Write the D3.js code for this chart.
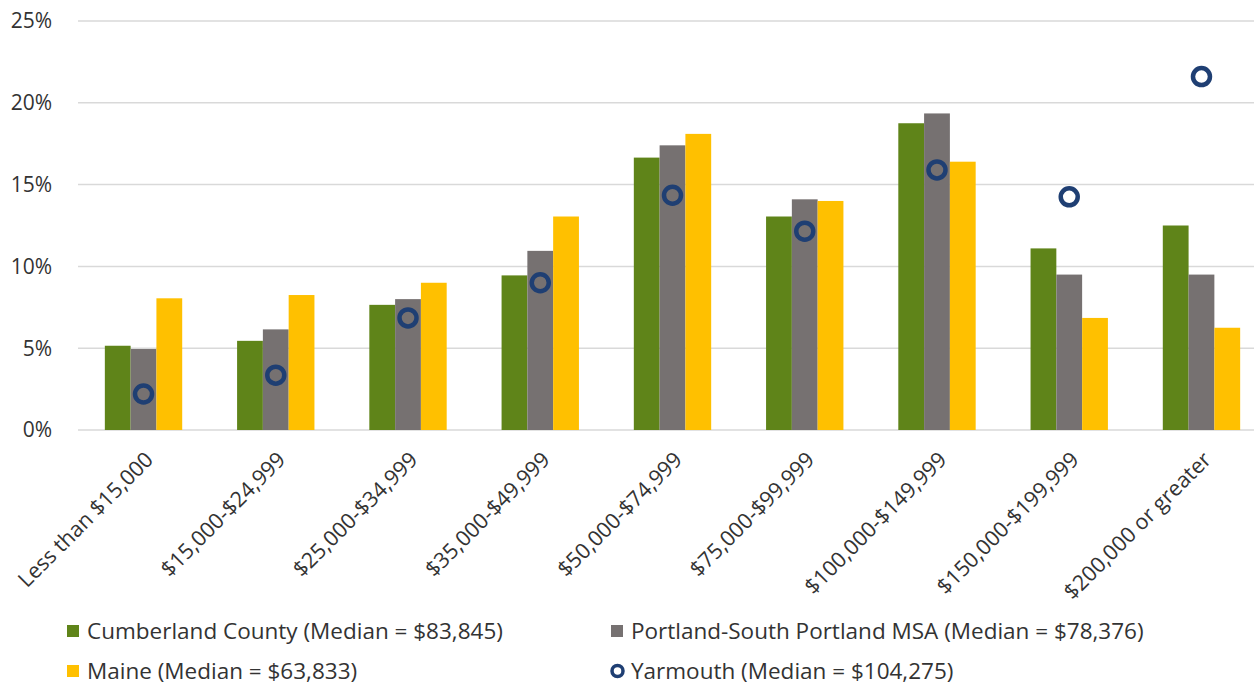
<!DOCTYPE html>
<html>
<head>
<meta charset="utf-8">
<script src="https://cdn.jsdelivr.net/npm/d3@7"></script>
<style>
  body { margin: 0; background: #fff; }
  text { font-family: "Open Sans", "Noto Sans", sans-serif; fill: #333; }
</style>
</head>
<body>
<div id="chart"></div>
<script>
// income brackets
var categories = ["Less than $15,000", "$15,000-$24,999", "$25,000-$34,999", "$35,000-$49,999",
  "$50,000-$74,999", "$75,000-$99,999", "$100,000-$149,999", "$150,000-$199,999", "$200,000 or greater"];

// share of households, %
var cumberland = [5.15, 5.45, 7.65, 9.45, 16.65, 13.05, 18.75, 11.1, 12.5];
var portland   = [4.95, 6.15, 8.0, 10.95, 17.4, 14.1, 19.35, 9.5, 9.5];
var maine      = [8.05, 8.25, 9.0, 13.05, 18.1, 14.0, 16.4, 6.85, 6.25];
var yarmouth   = [2.2, 3.35, 6.85, 9.0, 14.35, 12.15, 15.9, 14.25, 21.6];

var yTicks = [0, 5, 10, 15, 20, 25];

var barSeries = [
  {name: "Cumberland County (Median = $83,845)", fill: "#5f8419", values: cumberland},
  {name: "Portland-South Portland MSA (Median = $78,376)", fill: "#767171", values: portland},
  {name: "Maine (Median = $63,833)", fill: "#ffc000", values: maine}
];
var dotName = "Yarmouth (Median = $104,275)";
var dotColor = "#1f3f73";

var W = 1254, H = 686;
var svg = d3.select("#chart").append("svg")
  .attr("width", W).attr("height", H);

var y = d3.scaleLinear().domain([0, 25]).range([430, 21]);

var x0 = d3.scaleBand().domain(categories)
  .range([77.4, 1267.6])
  .paddingInner(0.415).paddingOuter(0.2075);

var x1 = d3.scaleBand().domain(barSeries.map(function(s) { return s.name; }))
  .range([0, x0.bandwidth()]);

// gridlines
svg.append("g").selectAll("line")
  .data(yTicks)
  .enter().append("line")
  .attr("x1", 78).attr("x2", W)
  .attr("y1", function(d) { return y(d); })
  .attr("y2", function(d) { return y(d); })
  .style("stroke", "#d9d9d9")
  .style("stroke-width", 1.5);

// y labels
svg.append("g").selectAll("text")
  .data(yTicks)
  .enter().append("text")
  .attr("x", 52)
  .attr("y", function(d) { return y(d); })
  .attr("dy", "0.35em")
  .attr("text-anchor", "end")
  .style("font-size", "21px")
  .text(function(d) { return d + "%"; });

// bars
var groups = svg.append("g").selectAll("g")
  .data(barSeries)
  .enter().append("g")
  .style("fill", function(s) { return s.fill; });

groups.selectAll("rect")
  .data(function(s) {
    return s.values.map(function(v, i) { return {cat: categories[i], v: v, name: s.name}; });
  })
  .enter().append("rect")
  .attr("x", function(d) { return x0(d.cat) + x1(d.name); })
  .attr("width", x1.bandwidth())
  .attr("y", function(d) { return y(d.v); })
  .attr("height", function(d) { return y(0) - y(d.v); });

// yarmouth markers
svg.append("g").selectAll("circle")
  .data(yarmouth)
  .enter().append("circle")
  .attr("cx", function(d, i) { return x0(categories[i]) + x0.bandwidth() / 2; })
  .attr("cy", function(d) { return y(d); })
  .attr("r", 8.5)
  .style("fill", "none")
  .style("stroke", dotColor)
  .style("stroke-width", 4.5);

// x labels
svg.append("g").selectAll("text")
  .data(categories)
  .enter().append("text")
  .attr("transform", function(d) {
    return "translate(" + (x0(d) + x0.bandwidth() / 2 + 11) + ",461) rotate(-45)";
  })
  .attr("text-anchor", "end")
  .style("font-size", "21.5px")
  .text(function(d) { return d; });

// legend
var legendItems = [
  {name: barSeries[0].name, fill: barSeries[0].fill, x: 67, y: 631},
  {name: barSeries[1].name, fill: barSeries[1].fill, x: 611, y: 631},
  {name: barSeries[2].name, fill: barSeries[2].fill, x: 67, y: 671},
  {name: dotName, dot: true, x: 611, y: 671}
];

var leg = svg.append("g").selectAll("g")
  .data(legendItems)
  .enter().append("g")
  .attr("transform", function(d) { return "translate(" + d.x + "," + d.y + ")"; });

leg.each(function(d) {
  var g = d3.select(this);
  if (d.dot) {
    g.append("circle").attr("cx", 6.5).attr("cy", 0).attr("r", 5.5)
      .style("fill", "none").style("stroke", dotColor).style("stroke-width", 3.5);
  } else {
    g.append("rect").attr("x", 0).attr("y", -6).attr("width", 12).attr("height", 12)
      .style("fill", d.fill);
  }
  g.append("text").attr("x", 20).attr("dy", "0.35em")
    .style("font-size", "22.5px")
    .text(d.name);
});
</script>
</body>
</html>
